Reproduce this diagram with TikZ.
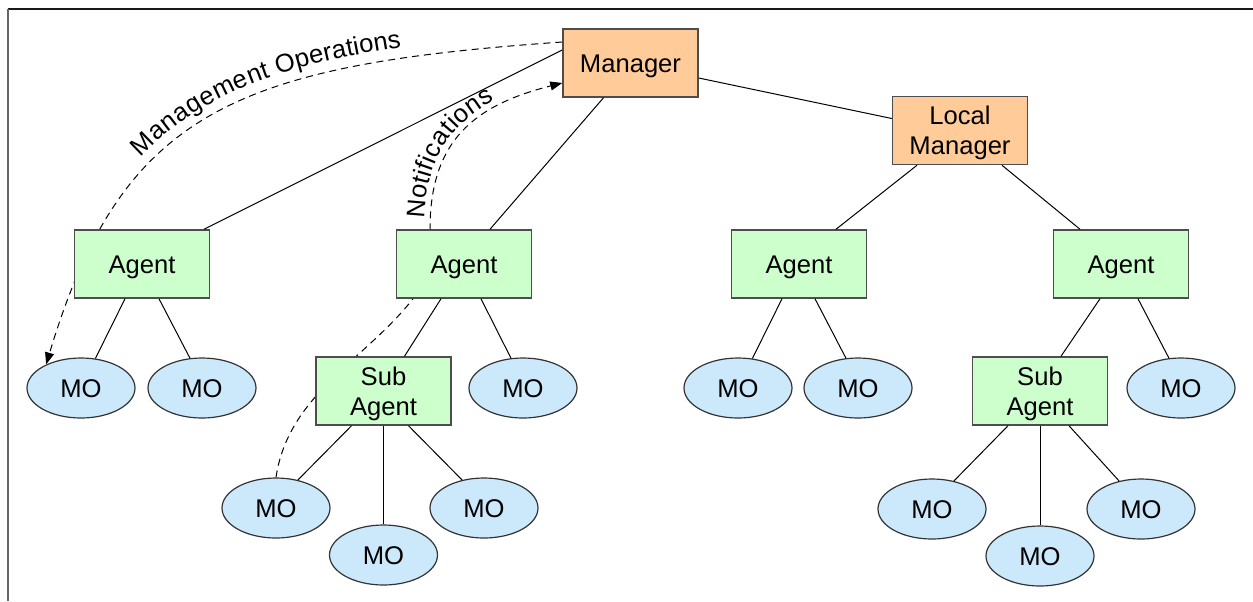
\documentclass[tikz,border=0pt]{standalone}
\usepackage{fontspec}
\setmainfont{Liberation Sans}
\usetikzlibrary{calc,arrows.meta,decorations.text,shapes.geometric}
\pgfdeclarelayer{background}
\pgfsetlayers{background,main}
\definecolor{mgrfill}{HTML}{FFCC99}
\definecolor{agentfill}{HTML}{CCFFCC}
\definecolor{mofill}{HTML}{CCE9FC}
\definecolor{boxline}{HTML}{4D4D4D}
\newcommand{\diagfont}{\fontsize{12.8}{15}\selectfont}
% strut that centres two-line labels on their capitals
\newcommand{\capstrut}{\rule{0pt}{11.9pt}}

\begin{document}
\begin{tikzpicture}[x=0.5pt,y=-0.5pt,
  font=\diagfont,
  box/.style={draw=boxline, line width=0.75pt, minimum width=67.5pt,
    minimum height=34pt, inner sep=0pt, align=center},
  oneline/.style={text height=9.2pt, text depth=0pt},
  mgrbox/.style={box, fill=mgrfill},
  agentbox/.style={box, fill=agentfill},
  mo/.style={ellipse, draw=black!80, line width=0.6pt, fill=mofill,
    minimum width=54pt, minimum height=30pt, inner sep=0pt, oneline},
  link/.style={line width=0.5pt},
  flow/.style={dash pattern=on 3.5pt off 2.5pt, line width=0.5pt,
    -{Triangle[length=6pt,width=4.5pt]}},
]
\useasboundingbox (0,0) rectangle (1253,601);

% frame
\draw[line width=1pt, black!90] (1253,9) -- (8,9);
\draw[line width=0.9pt, black!60] (8,9) -- (8,601);

% managers and agents
\node[mgrbox, oneline] (mgr) at (630.5,63) {Manager};
\node[mgrbox] (lm) at (960,130.5) {\capstrut Local\\Manager};
\node[agentbox, oneline] (a1) at (142,264) {Agent};
\node[agentbox, oneline] (a2) at (464,264) {Agent};
\node[agentbox, oneline] (a3) at (799,264) {Agent};
\node[agentbox, oneline] (a4) at (1121,264) {Agent};
\node[agentbox] (sa1) at (383.5,391) {\capstrut Sub\\Agent};
\node[agentbox] (sa2) at (1040,391) {\capstrut Sub\\Agent};

% managed objects
\node[mo] (mo1) at (81,388) {MO};
\node[mo] (mo2) at (202,388) {MO};
\node[mo] (mo3) at (523,388) {MO};
\node[mo] (mo4) at (738,388) {MO};
\node[mo] (mo5) at (858,388) {MO};
\node[mo] (mo6) at (1181,388) {MO};
\node[mo] (s1a) at (276,508) {MO};
\node[mo] (s1b) at (383.5,555) {MO};
\node[mo] (s1c) at (484,508) {MO};
\node[mo] (s2a) at (932,509) {MO};
\node[mo] (s2b) at (1040,556) {MO};
\node[mo] (s2c) at (1141,509) {MO};

% hierarchy links
\draw[link] ($(mgr.west)+(0,-13)$) -- ($(a1.north)+(62,0)$);
\draw[link] ($(mgr.south)+(-27,0)$) -- ($(a2.north)+(26,0)$);
\draw[link] ($(mgr.east)+(0,15)$) -- ($(lm.west)+(0,-12)$);
\draw[link] ($(lm.south)+(-43,0)$) -- ($(a3.north)+(37,0)$);
\draw[link] ($(lm.south)+(42,0)$) -- ($(a4.north)+(-41,0)$);
\draw[link] ($(a1.south)+(-17,0)$) -- (mo1.64);
\draw[link] ($(a1.south)+(17,0)$) -- (mo2.112);
\draw[link] ($(a2.south)+(-23,0)$) -- ($(sa1.north)+(21,0)$);
\draw[link] ($(a2.south)+(17,0)$) -- (mo3.112);
\draw[link] ($(a3.south)+(-17,0)$) -- (mo4.64);
\draw[link] ($(a3.south)+(16,0)$) -- (mo5.112);
\draw[link] ($(a4.south)+(-21,0)$) -- ($(sa2.north)+(21,0)$);
\draw[link] ($(a4.south)+(17,0)$) -- (mo6.112);
\draw[link] ($(sa1.south)+(-32,0)$) -- (s1a.52);
\draw[link] (sa1.south) -- (s1b.north);
\draw[link] ($(sa1.south)+(25,0)$) -- (s1c.128);
\draw[link] ($(sa2.south)+(-32,0)$) -- (s2a.52);
\draw[link] (sa2.south) -- (s2b.north);
\draw[link] ($(sa2.south)+(29,0)$) -- (s2c.128);

% message flows, passing behind the boxes
\begin{pgfonlayer}{background}
\draw[flow] ($(mgr.west)+(0,-21)$) .. controls (233,65) and (122,112) .. (mo1.146);
\draw[flow] (s1a.north) .. controls (288,395) and (365,360) .. ($(a2.south)+(-51,0)$)
  -- ($(a2.north)+(-34,0)$) .. controls (430,140) and (475,105) .. ($(mgr.west)+(0,20)$);
\end{pgfonlayer}

% flow labels
\path[decorate, decoration={text along path,
    text={|\diagfont|Management Operations}, raise=5.5pt,
    text align={left, left indent=113pt}}]
  (mo1.146) .. controls (122,112) and (233,65) .. ($(mgr.west)+(0,-21)$);
\path[decorate, decoration={text along path,
    text={|\diagfont|Notifications}, raise=3pt,
    text align={left, left indent=5pt}}]
  ($(a2.north)+(-34,0)$) .. controls (430,140) and (475,105) .. ($(mgr.west)+(0,20)$);
\end{tikzpicture}
\end{document}
